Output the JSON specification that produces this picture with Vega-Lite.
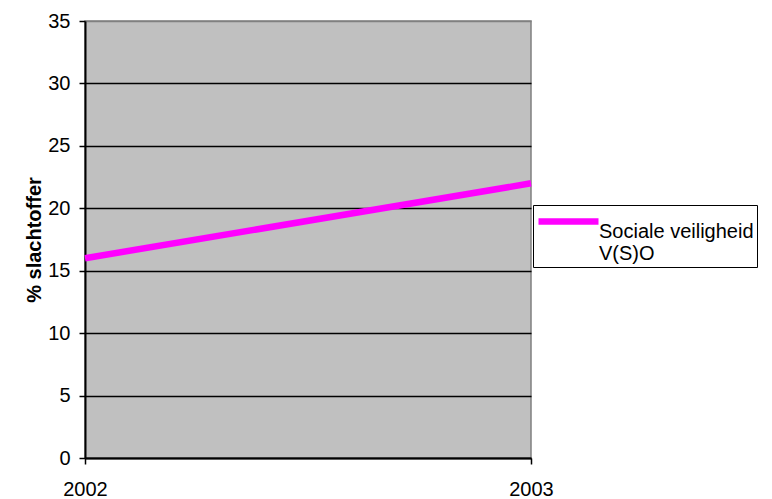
{
  "$schema": "https://vega.github.io/schema/vega-lite/v6.json",
  "width": 446,
  "height": 437,
  "autosize": {"type": "none"},
  "padding": {"left": 85, "top": 21, "right": 241, "bottom": 41},
  "background": "white",
  "config": {
    "font": "Liberation Sans",
    "view": {"fill": "#C0C0C0", "stroke": "#808080", "strokeWidth": 1.5}
  },
  "data": {
    "values": [
      {"jaar": 2002, "pct": 16, "reeks": "Sociale veiligheid V(S)O"},
      {"jaar": 2003, "pct": 22, "reeks": "Sociale veiligheid V(S)O"}
    ]
  },
  "mark": {"type": "line", "strokeWidth": 6.5, "strokeCap": "butt"},
  "encoding": {
    "x": {
      "field": "jaar",
      "type": "quantitative",
      "scale": {"domain": [2002, 2003], "nice": false, "zero": false},
      "axis": {
        "title": null,
        "values": [2002, 2003],
        "format": "d",
        "grid": false,
        "domainColor": "black",
        "domainWidth": 2,
        "tickColor": "black",
        "tickWidth": 1.5,
        "tickSize": 6,
        "labelFontSize": 20,
        "labelColor": "black",
        "labelPadding": 15,
        "labelFlush": false
      }
    },
    "y": {
      "field": "pct",
      "type": "quantitative",
      "scale": {"domain": [0, 35], "nice": false},
      "axis": {
        "title": "% slachtoffer",
        "titleFontSize": 20,
        "titleFontWeight": "bold",
        "titleColor": "black",
        "titlePadding": 3,
        "values": [0, 5, 10, 15, 20, 25, 30, 35],
        "grid": true,
        "gridColor": {"condition": {"test": "datum.value == 35", "value": "#808080"}, "value": "black"},
        "gridWidth": 1.5,
        "gridOpacity": 1,
        "domainColor": "black",
        "domainWidth": 2,
        "tickColor": "black",
        "tickWidth": 1.5,
        "tickSize": 6,
        "labelFontSize": 20,
        "labelColor": "black",
        "labelPadding": 9
      }
    },
    "color": {
      "field": "reeks",
      "type": "nominal",
      "scale": {"range": ["#FF00FF"]},
      "legend": {
        "title": null,
        "orient": "none",
        "legendX": 448,
        "legendY": 184,
        "strokeColor": "black",
        "fillColor": "white",
        "padding": 3,
        "symbolType": "M-3,0H3",
        "symbolSize": 400,
        "symbolOffset": 19,
        "symbolStrokeWidth": 6.5,
        "labelFontSize": 20,
        "labelLineHeight": 20,
        "labelBaseline": "top",
        "labelColor": "black",
        "labelOffset": 17,
        "labelLimit": 300,
        "labelExpr": "['Sociale veiligheid\u00a0\u00a0\u00a0\u00a0\u00a0', 'V(S)O']"
      }
    }
  }
}
